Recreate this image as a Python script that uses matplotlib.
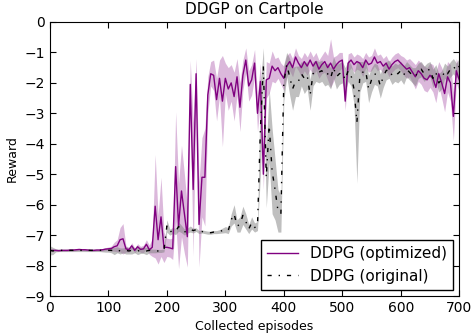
import numpy as np
import matplotlib
matplotlib.use("Agg")
import matplotlib.pyplot as plt

episodes = np.arange(0, 705, 5)

# DDPG (optimized): mean reward and spread
opt_mean = [
    -7.50, -7.50, -7.50, -7.51, -7.50, -7.50, -7.50, -7.49, -7.49, -7.48,
    -7.47, -7.48, -7.48, -7.49, -7.50, -7.50, -7.49, -7.49, -7.48, -7.46,
    -7.45, -7.44, -7.38, -7.35, -7.15, -7.12, -7.45, -7.48, -7.35, -7.50,
    -7.38, -7.47, -7.45, -7.30, -7.48, -7.40, -6.05, -7.15, -6.40, -7.40,
    -7.40, -7.42, -7.45, -4.75, -6.70, -5.55, -6.30, -7.05, -2.05, -5.50,
    -1.70, -6.65, -5.10, -5.10, -2.40, -1.70, -1.75, -2.55, -1.85, -2.60,
    -1.85, -2.20, -2.00, -2.45, -1.80, -2.80, -1.75, -1.25, -2.10, -1.90,
    -1.35, -3.00, -1.95, -5.00, -1.90, -1.85, -1.45, -1.60, -1.50, -1.70,
    -1.85, -1.45, -1.30, -1.50, -1.15, -1.35, -1.50, -1.30, -1.45, -1.25,
    -1.45, -1.30, -1.55, -1.40, -1.30, -1.50, -1.35, -1.55, -1.40, -1.30,
    -1.25, -2.60, -1.35, -1.25, -1.40, -1.30, -1.35, -1.50, -1.25, -1.40,
    -1.35, -1.15, -1.35, -1.30, -1.45, -1.35, -1.55, -1.40, -1.30, -1.25,
    -1.35, -1.45, -1.55, -1.50, -1.65, -1.80, -1.60, -1.70, -1.85, -1.90,
    -1.75, -1.85, -2.15, -1.70, -2.00, -2.35, -1.80, -2.00, -3.10, -1.60,
    -1.90,
]
opt_std = [
    0.03, 0.03, 0.03, 0.03, 0.03, 0.03, 0.03, 0.03, 0.03, 0.03,
    0.03, 0.03, 0.03, 0.03, 0.03, 0.03, 0.03, 0.03, 0.04, 0.05,
    0.06, 0.08, 0.15, 0.20, 0.40, 0.50, 0.10, 0.08, 0.10, 0.08,
    0.10, 0.10, 0.12, 0.15, 0.15, 0.30, 1.70, 0.80, 1.30, 0.50,
    0.30, 0.30, 0.35, 1.80, 1.40, 1.50, 1.30, 1.00, 0.80, 2.20,
    0.50, 1.40, 1.30, 1.60, 0.60, 0.40, 0.50, 0.70, 0.60, 1.50,
    0.50, 0.70, 0.60, 0.80, 0.60, 0.80, 0.50, 0.40, 0.50, 0.50,
    0.45, 0.60, 0.60, 0.50, 0.60, 0.50, 0.50, 0.40, 0.35, 0.35,
    0.40, 0.35, 0.30, 0.30, 0.30, 0.25, 0.30, 0.30, 0.30, 0.30,
    0.30, 0.30, 0.30, 0.30, 0.35, 0.40, 0.80, 0.40, 0.30, 0.30,
    0.25, 0.30, 0.30, 0.25, 0.25, 0.25, 0.25, 0.30, 0.25, 0.25,
    0.25, 0.30, 0.25, 0.25, 0.25, 0.25, 0.25, 0.25, 0.25, 0.25,
    0.25, 0.30, 0.30, 0.30, 0.35, 0.40, 0.35, 0.35, 0.40, 0.40,
    0.40, 0.45, 0.50, 0.40, 0.50, 0.60, 0.50, 0.60, 0.80, 0.40,
    0.40,
]

# DDPG (original): mean reward and spread
orig_mean = [
    -7.50, -7.52, -7.50, -7.50, -7.50, -7.50, -7.50, -7.50, -7.50, -7.50,
    -7.50, -7.50, -7.50, -7.50, -7.50, -7.50, -7.50, -7.50, -7.50, -7.50,
    -7.50, -7.50, -7.52, -7.48, -7.52, -7.50, -7.50, -7.52, -7.50, -7.50,
    -7.52, -7.50, -7.50, -7.52, -7.50, -7.52, -7.52, -7.52, -7.52, -7.50,
    -6.70, -6.90, -6.85, -6.88, -6.72, -6.80, -6.90, -6.85, -6.80, -6.85,
    -6.82, -6.90, -6.88, -6.90, -6.92, -6.92, -6.90, -6.90, -6.88, -6.85,
    -6.82, -6.85, -6.50, -6.30, -6.70, -6.65, -6.35, -6.55, -6.80, -6.60,
    -6.75, -6.70, -3.50, -1.45, -5.10, -3.40, -4.90, -5.50, -6.20, -6.30,
    -2.00, -1.40, -1.80, -2.20, -1.95, -1.95, -1.70, -1.85, -1.75, -2.40,
    -1.70, -1.60, -1.65, -1.60, -1.75, -1.70, -1.85, -1.50, -1.80, -1.70,
    -1.65, -1.90, -1.60, -1.75, -2.20, -3.30, -1.80, -1.65, -1.60, -2.20,
    -1.90, -1.70, -1.75, -2.10, -1.80, -1.60, -1.55, -1.75, -1.65, -1.70,
    -1.60, -1.75, -1.55, -1.65, -1.75, -1.80, -1.60, -1.55, -1.70, -1.60,
    -1.55, -1.85, -1.65, -2.00, -1.90, -1.60, -1.70, -1.55, -1.45, -1.60,
    -1.45,
]
orig_std = [
    0.15, 0.12, 0.05, 0.04, 0.04, 0.04, 0.04, 0.04, 0.04, 0.04,
    0.04, 0.04, 0.04, 0.04, 0.04, 0.04, 0.04, 0.04, 0.05, 0.06,
    0.06, 0.08, 0.12, 0.10, 0.10, 0.08, 0.12, 0.10, 0.12, 0.08,
    0.12, 0.10, 0.10, 0.12, 0.08, 0.06, 0.06, 0.05, 0.05, 0.05,
    0.20, 0.10, 0.10, 0.10, 0.15, 0.12, 0.10, 0.08, 0.10, 0.08,
    0.06, 0.05, 0.05, 0.05, 0.05, 0.05, 0.05, 0.05, 0.06, 0.08,
    0.10, 0.10, 0.20, 0.30, 0.20, 0.25, 0.30, 0.25, 0.15, 0.20,
    0.15, 0.15, 1.50, 0.60, 1.00, 1.20, 1.40, 1.00, 0.70, 0.60,
    0.60, 0.40, 0.60, 0.70, 0.50, 0.50, 0.40, 0.50, 0.45, 0.50,
    0.40, 0.35, 0.35, 0.35, 0.35, 0.35, 0.35, 0.35, 0.40, 0.35,
    0.35, 0.40, 0.35, 0.35, 0.50, 2.00, 0.50, 0.35, 0.35, 0.45,
    0.40, 0.35, 0.35, 0.40, 0.35, 0.30, 0.30, 0.30, 0.30, 0.30,
    0.30, 0.30, 0.25, 0.25, 0.25, 0.30, 0.25, 0.25, 0.25, 0.25,
    0.25, 0.30, 0.25, 0.30, 0.30, 0.25, 0.25, 0.25, 0.25, 0.25,
    0.25,
]

opt_mean = np.array(opt_mean)
opt_std = np.array(opt_std)
orig_mean = np.array(orig_mean)
orig_std = np.array(orig_std)

plt.rcParams["font.family"] = "DejaVu Sans"
plt.rcParams["font.size"] = 10
plt.rcParams["xtick.direction"] = "in"
plt.rcParams["ytick.direction"] = "in"
plt.rcParams["xtick.top"] = True
plt.rcParams["ytick.right"] = True
plt.rcParams["xtick.major.size"] = 4
plt.rcParams["ytick.major.size"] = 4

fig = plt.figure(figsize=(4.71, 3.33), dpi=100)
ax = fig.add_axes([0.106, 0.111, 0.869, 0.823])

ax.fill_between(episodes, opt_mean - opt_std, opt_mean + opt_std,
                color="purple", alpha=0.28, linewidth=0)
ax.fill_between(episodes, orig_mean - orig_std, orig_mean + orig_std,
                color="gray", alpha=0.5, linewidth=0)
ax.plot(episodes, opt_mean, color="purple", linewidth=1.0, label="DDPG (optimized)")
ax.plot(episodes, orig_mean, color="black", linestyle="-.", linewidth=1.0,
        dashes=(3, 5, 1, 5), label="DDPG (original)")

ax.set_xlim(0, 700)
ax.set_ylim(-9, 0)
ax.set_xticks(np.arange(0, 701, 100))
ax.set_yticks(np.arange(-9, 1, 1))
ax.set_title("DDGP on Cartpole", fontsize=11)
ax.set_xlabel("Collected episodes", fontsize=9)
ax.set_ylabel("Reward", fontsize=9)

leg = ax.legend(loc="lower right", fancybox=False, edgecolor="black",
                framealpha=1, fontsize=11, borderaxespad=0.4)
leg.get_frame().set_linewidth(1.0)

fig.savefig("out.png", dpi=100)
